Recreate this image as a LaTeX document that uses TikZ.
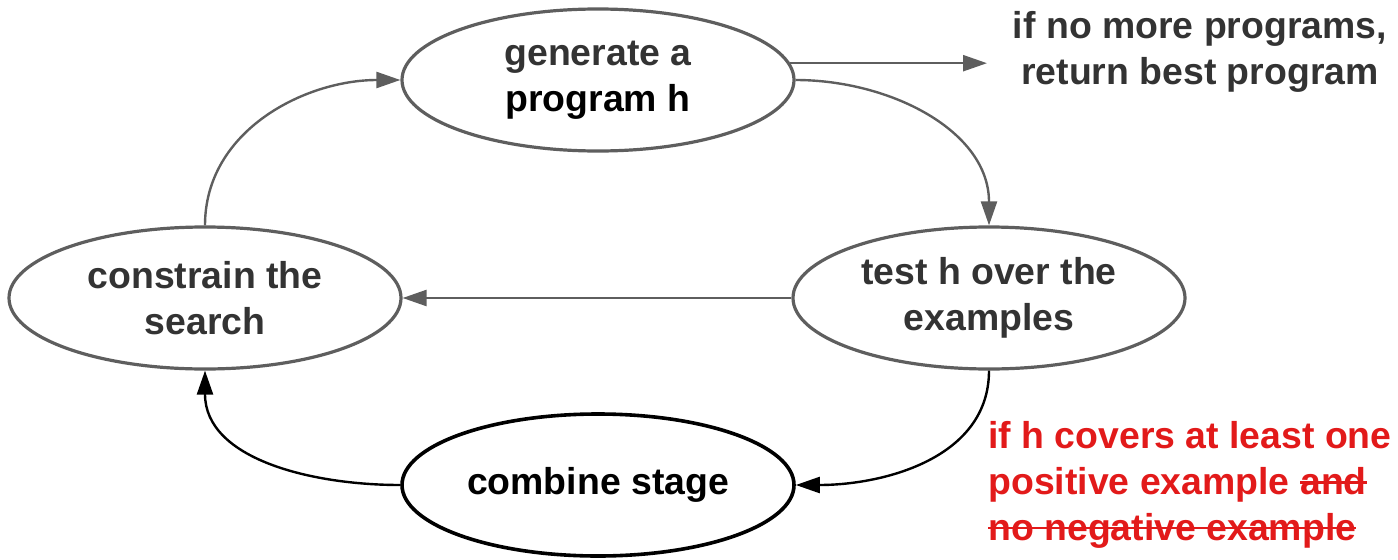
\documentclass[tikz,border=0pt]{standalone}
\usepackage{fontspec}
\setmainfont{Liberation Sans}
\usepackage{tikz}
\usetikzlibrary{
  shapes.geometric,
  arrows.meta
}
\definecolor{linegray}{HTML}{5E5E5E}
\definecolor{textgray}{HTML}{333333}
\definecolor{notered}{HTML}{E21A1A}
\newcommand{\strikeout}[1]{\setbox0\hbox{#1}\rlap{\rule[0.55ex]{\wd0}{1.4pt}}\box0}

\begin{document}
\begin{tikzpicture}[
        x=0.5pt,y=0.5pt,
        stage/.style={
            ellipse,
            draw=linegray,
            line width=1.6pt,
            inner sep=0pt,
            minimum width=196pt,
            minimum height=71pt,
            align=center,
            text=textgray,
            font=\fontsize{18.7}{23}\selectfont\bfseries
          },
        note/.style={
            inner sep=0pt,
            font=\fontsize{18.7}{22.8}\selectfont\bfseries
          },
        flow/.style={
            draw=linegray,
            line width=1.2pt,
            -{Triangle[length=12pt,width=8pt]}
          }
      ]
      \useasboundingbox (0,0) rectangle (1398,559);

      % 楕円のノード
      \node[stage] (generate) at (598,479) {generate a\\\textcolor{black}{program h}};
      \node[stage] (test) at (989,261) {test h over the\\examples};
      \node[stage] (constrain) at (205,261) {constrain the\\search};
      \node[stage,draw=black,text=black,line width=1.8pt] (combine) at (598,74) {combine stage};

      % 注記
      \node[note,text=textgray,align=center] (nomore) at (1200,507) {if no more programs,\\return best program};
      \node[note,text=notered,align=left,anchor=west] (covers) at (988,74)
        {if h covers at least one\\positive example \strikeout{and}\\\strikeout{no negative example}};
      \coordinate (ret) at (987,507);

      % 探索のループ
      \draw[flow] (constrain.north) to[out=90,in=180] (generate.west);
      \draw[flow] (generate.east) to[out=0,in=90] (test.north);
      \draw[flow] (test.west) -- (constrain.east);
      \draw[flow] (generate.5) -- (generate.5 -| ret);
      \draw[flow,draw=black] (test.south) to[out=-90,in=0] (combine.east);
      \draw[flow,draw=black] (combine.west) to[out=180,in=-90] (constrain.south);

    \end{tikzpicture}
\end{document}
